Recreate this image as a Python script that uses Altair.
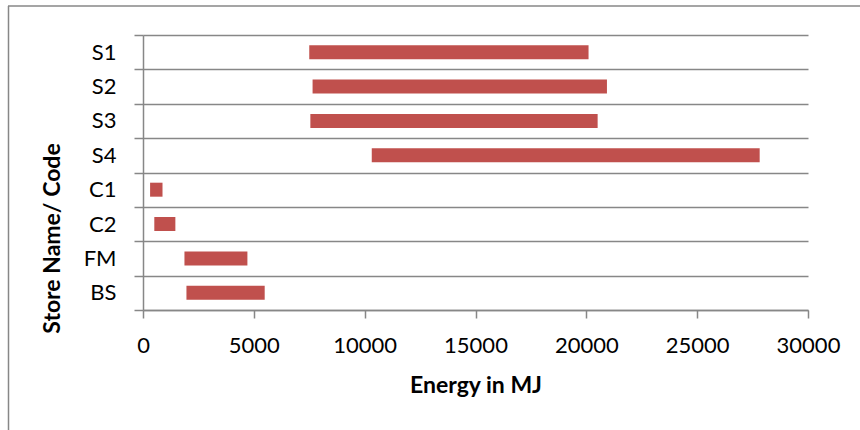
import altair as alt
import pandas as pd

# Energy range (MJ) for each store
stores = ["S1", "S2", "S3", "S4", "C1", "C2", "FM", "BS"]
energy_low = [7500, 7650, 7550, 10320, 320, 510, 1870, 1960]
energy_high = [20100, 20930, 20510, 27820, 880, 1460, 4710, 5490]

df = pd.DataFrame({"store": stores, "low": energy_low, "high": energy_high})

FONT = "Lato"
GRAY = "#878787"
LABEL_SIZE = 22
TITLE_SIZE = 23

bars = alt.Chart(df).mark_bar(size=14, color="#C0504D", cornerRadius=0).encode(
    y=alt.Y(
        "store:N",
        sort=stores,
        scale=alt.Scale(paddingInner=0, paddingOuter=0),
        axis=alt.Axis(
            title="Store Name/ Code",
            tickBand="extent",
            grid=True,
            gridColor=GRAY,
            gridWidth=1.5,
            domainColor=GRAY,
            domainWidth=1.5,
            tickColor=GRAY,
            tickWidth=1.5,
            tickSize=9,
            labelPadding=18,
            labelFont=FONT,
            labelFontSize=LABEL_SIZE,
            labelColor="#000000",
            titleFont=FONT,
            titleFontSize=TITLE_SIZE,
            titleFontWeight="bold",
            titleColor="#000000",
            titleAngle=-90,
            titleAlign="center",
            titleBaseline="alphabetic",
            titleX=-84,
            titleY=203,
        ),
    ),
    x=alt.X(
        "low:Q",
        scale=alt.Scale(domain=[0, 30000], nice=False),
        axis=alt.Axis(
            title="Energy in MJ",
            values=[0, 5000, 10000, 15000, 20000, 25000, 30000],
            format="d",
            grid=False,
            labelFlush=False,
            labelOverlap=False,
            domainColor=GRAY,
            domainWidth=1.5,
            tickColor=GRAY,
            tickWidth=1.5,
            tickSize=8,
            labelPadding=17,
            labelFont=FONT,
            labelFontSize=LABEL_SIZE,
            labelColor="#000000",
            titleFont=FONT,
            titleFontSize=TITLE_SIZE,
            titleFontWeight="bold",
            titleColor="#000000",
            titleBaseline="alphabetic",
            titleY=82,
        ),
    ),
    x2="high:Q",
)

# Outer chart border (top and left edges)
one = pd.DataFrame({"k": [0]})
border_top = alt.Chart(one).mark_rule(color=GRAY, strokeWidth=1.5).encode(
    x=alt.value(-135), x2=alt.value(760), y=alt.value(-29)
)
border_left = alt.Chart(one).mark_rule(color=GRAY, strokeWidth=1.5).encode(
    x=alt.value(-134.5), y=alt.value(-29), y2=alt.value(420)
)

chart = (
    alt.layer(bars, border_top, border_left)
    .properties(
        width=665,
        height=275,
        autosize=alt.AutoSizeParams(type="none"),
        padding={"left": 143, "top": 35, "right": 52, "bottom": 120},
        background="#ffffff",
    )
    .configure_view(stroke=None)
)

chart.save("out.html", embed_options={"renderer": "svg", "actions": False})
